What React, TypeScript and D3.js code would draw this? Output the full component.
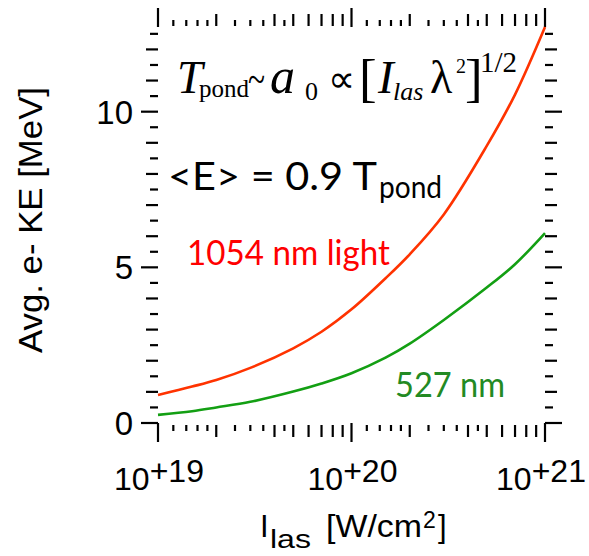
import React from "react";
import * as d3 from "d3";

// ---- data ----
const intensity = [1e19, 1.5e19, 2e19, 3e19, 5e19, 7e19, 1e20, 1.5e20, 2e20, 3e20, 5e20, 7e20, 1e21];
const ke1054 = [0.9, 1.17, 1.38, 1.77, 2.4, 2.93, 3.65, 4.65, 5.42, 6.7, 8.9, 10.55, 12.72];
const ke527 = [0.26, 0.38, 0.5, 0.68, 1.01, 1.27, 1.6, 2.1, 2.55, 3.31, 4.35, 5.1, 6.1];
const xMajorTicks = [1e19, 1e20, 1e21];
const xTickExponents = ["+19", "+20", "+21"];
const yLabelTicks = [0, 5, 10];
const minorMultipliers = [1.2, 1.4, 1.6, 1.8, 2, 2.5, 3, 3.5, 4, 4.5, 5, 6, 7, 8, 9];
const mediumMultipliers = [2, 4, 5, 6, 7, 8, 9];
const yMax = 12.72;

const W = 589;
const H = 556;
const L = 158, R = 545, T = 27, B = 423;

const RED_LINE = "#ff3300";
const RED_TEXT = "#ff0000";
const GREEN_LINE = "#139f13";
const GREEN_TEXT = "#238a23";

export default function App() {
  const x = d3.scaleLog().domain([1e19, 1e21]).range([L, R]);
  const y = d3.scaleLinear().domain([0, yMax]).range([B, T]);

  const line = (vals: number[]) =>
    d3
      .line<number>()
      .x((_, i) => x(intensity[i]))
      .y((d) => y(d))
      .curve(d3.curveCatmullRom.alpha(0.5))(vals) as string;

  const yTicks = d3.range(0, yMax + 0.001, 0.5);
  const yLen = (v: number) => (v % 5 === 0 ? 17 : v % 1 === 0 ? 12 : 8);

  const minor: { v: number; m: number }[] = [];
  for (const dec of [1e19, 1e20]) {
    for (const m of minorMultipliers) minor.push({ v: dec * m, m });
  }
  const xLen = (m: number) => (mediumMultipliers.includes(m) ? 12 : 6);

  const ink = "#000";
  const tickW = 2.2;
  const arial = "'Liberation Sans', Arial, Helvetica, sans-serif";
  const times = "'Liberation Serif', 'Times New Roman', serif";
  const cal = "Lato, 'Open Sans', sans-serif";

  return (
    <svg
      width={W}
      height={H}
      viewBox={`0 0 ${W} ${H}`}
      style={{ position: "absolute", left: 0, top: 0, background: "#fff" }}
    >
      <rect x={0} y={0} width={W} height={H} fill="#fff" />
      {/* y ticks left & right */}
      {yTicks.map((v) => (
        <g key={"y" + v}>
          <line x1={L - yLen(v)} x2={L} y1={y(v)} y2={y(v)} stroke={ink} strokeWidth={tickW} />
          <line x1={R} x2={R + yLen(v)} y1={y(v)} y2={y(v)} stroke={ink} strokeWidth={tickW} />
        </g>
      ))}
      {/* x major ticks top & bottom */}
      {xMajorTicks.map((v) => (
        <g key={"xm" + v}>
          <line x1={x(v)} x2={x(v)} y1={B} y2={B + 19} stroke={ink} strokeWidth={tickW} />
          <line x1={x(v)} x2={x(v)} y1={T} y2={T - 19} stroke={ink} strokeWidth={tickW} />
        </g>
      ))}
      {minor.map((d, i) => (
        <g key={"xn" + i}>
          <line x1={x(d.v)} x2={x(d.v)} y1={B + 2} y2={B + 2 + xLen(d.m)} stroke={ink} strokeWidth={tickW} />
          <line x1={x(d.v)} x2={x(d.v)} y1={T - 1} y2={T - 1 - xLen(d.m)} stroke={ink} strokeWidth={tickW} />
        </g>
      ))}

      {/* y tick labels */}
      {yLabelTicks.map((v) => (
        <text key={"yl" + v} x={133} y={y(v) + 12} fontFamily={arial} fontSize={33} textAnchor="end" fill={ink}>
          {v}
        </text>
      ))}
      {/* x tick labels */}
      {xMajorTicks.map((v, i) => (
        <text
          key={"xl" + v}
          x={i === xMajorTicks.length - 1 ? x(v) - 4 : x(v) + 1}
          y={490}
          fontFamily={arial}
          fontSize={32}
          textAnchor="middle"
          fill={ink}
        >
          10
          <tspan dy={-8}>{xTickExponents[i]}</tspan>
        </text>
      ))}

      {/* axis titles */}
      <text
        transform="translate(42,220) rotate(-90)"
        fontFamily={arial}
        fontSize={33}
        textAnchor="middle"
        textLength={266}
        lengthAdjust="spacingAndGlyphs"
        fill={ink}
      >
        Avg. e- KE  [MeV]
      </text>
      <g fontFamily={arial} fill={ink}>
        <text x={260} y={537} fontSize={31}>I</text>
        <text x={270} y={548} fontSize={26} textLength={41} lengthAdjust="spacingAndGlyphs">las</text>
        <text x={326} y={537} fontSize={31} textLength={96} lengthAdjust="spacingAndGlyphs">[W/cm</text>
        <text x={423} y={528} fontSize={23}>2</text>
        <text x={438} y={537} fontSize={31}>]</text>
      </g>

      {/* curves */}
      <path d={line(ke1054)} fill="none" stroke={RED_LINE} strokeWidth={2.6} />
      <path d={line(ke527)} fill="none" stroke={GREEN_LINE} strokeWidth={2.6} />

      {/* formula */}
      <g fontFamily={times} fill={ink}>
        <text x={177} y={93} fontSize={46} fontStyle="italic">T</text>
        <text x={199} y={97} fontSize={25}>pond</text>
        <text x={248} y={93} fontSize={42} textLength={17} lengthAdjust="spacingAndGlyphs">~</text>
        <text x={270} y={93} fontSize={50} fontStyle="italic">a</text>
        <text x={305} y={100} fontSize={26}>0</text>
        <text x={328} y={92} fontSize={38}>∝</text>
        <text x={359} y={96} fontSize={53}>[</text>
        <text x={378} y={93} fontSize={47} fontStyle="italic">I</text>
        <text x={393} y={100} fontSize={26} fontStyle="italic">las</text>
        <text x={430} y={93} fontSize={46}>λ</text>
        <text x={456} y={73} fontSize={20}>2</text>
        <text x={465} y={96} fontSize={53}>]</text>
        <text x={480} y={72} fontSize={29}>1/2</text>
      </g>

      {/* annotations */}
      <g fontFamily={cal}>
        <text x={168} y={190} fontSize={38} textLength={209} lengthAdjust="spacingAndGlyphs" fill={ink}>
          {"<E> = 0.9 T"}
        </text>
        <text x={379} y={198} fontSize={31} textLength={63} lengthAdjust="spacingAndGlyphs" fill={ink}>
          pond
        </text>
        <text x={187} y={265} fontSize={34} textLength={203} lengthAdjust="spacingAndGlyphs" fill={RED_TEXT}>
          1054 nm light
        </text>
        <text x={395} y={397} fontSize={34} textLength={110} lengthAdjust="spacingAndGlyphs" fill={GREEN_TEXT}>
          527 nm
        </text>
      </g>
    </svg>
  );
}
